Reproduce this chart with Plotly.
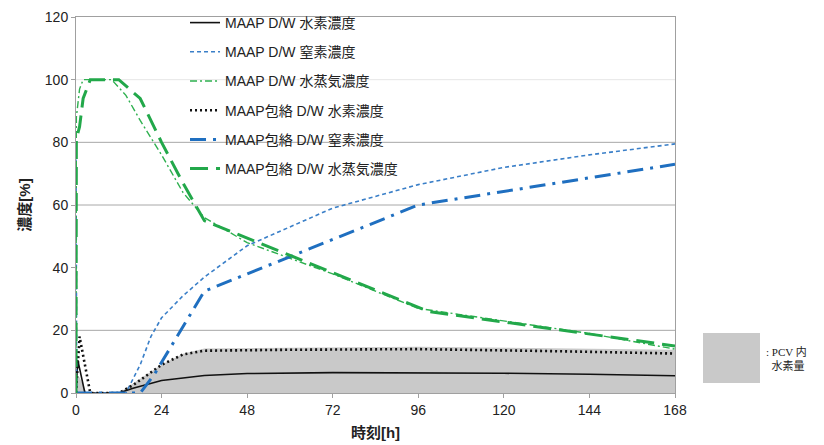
import plotly.graph_objects as go

# ---- data ----
t_h2 = [0, 0.5, 2.5, 12, 16, 24, 36, 48, 72, 96, 120, 144, 168]
h2_maap = [0, 10.5, 0, 0, 1.5, 4.0, 5.6, 6.2, 6.5, 6.5, 6.3, 6.0, 5.5]

t_n2 = [0, 0.2, 14, 18, 21, 24, 30, 36, 48, 72, 96, 120, 144, 168]
n2_maap = [79, 0, 0, 9, 18, 24, 31, 37, 47, 59, 66.5, 72, 76, 79.5]

t_st = [0, 0.1, 1, 2, 10, 14, 18, 24, 30, 36, 48, 72, 96, 120, 144, 168]
st_maap = [0, 88, 97, 100, 100, 95, 87, 76, 64, 56, 48, 38, 27, 23, 19, 14]

t_h2e = [0, 1, 4, 12, 16, 24, 30, 36, 60, 96, 132, 168]
h2_env = [0, 18, 0, 0, 2.5, 9, 12.3, 13.5, 13.8, 14, 13.4, 12.6]

t_n2e = [0, 18, 22, 36, 96, 168]
n2_env = [0, 0, 6, 32.5, 60, 73]

t_ste = [0, 0.1, 1, 2, 4, 12, 18, 24, 30, 36, 99, 168]
st_env = [0, 81, 85, 94, 100, 100, 94, 80, 67, 55, 26, 15]

t_pcv = [0, 1, 3, 12, 16, 24, 30, 36, 96, 168]
pcv_h2 = [5, 5, 0, 0, 3, 9, 12.5, 14.2, 14.8, 13.8]

x_ticks = [0, 24, 48, 72, 96, 120, 144, 168]
y_ticks = [0, 20, 40, 60, 80, 100, 120]
grid_lines = [20, 60, 80]
faint_grid = [100]

names = [
    "MAAP D/W 水素濃度",
    "MAAP D/W 窒素濃度",
    "MAAP D/W 水蒸気濃度",
    "MAAP包絡 D/W 水素濃度",
    "MAAP包絡 D/W 窒素濃度",
    "MAAP包絡 D/W 水蒸気濃度",
]

FONT = "Liberation Sans, Arial, Noto Sans CJK JP, sans-serif"

fig = go.Figure()

fig.add_trace(go.Scatter(x=t_pcv, y=pcv_h2, mode="lines", fill="tozeroy",
                         fillcolor="#c9c9c9", line=dict(width=0, color="#c9c9c9"),
                         showlegend=False, hoverinfo="skip"))

series = [
    (t_h2, h2_maap, dict(color="#111111", width=1.6, dash="solid")),
    (t_n2, n2_maap, dict(color="#3a7fc8", width=1.6, dash="4px,3px")),
    (t_st, st_maap, dict(color="#2eb04f", width=1.4, dash="7px,3px,2px,3px")),
    (t_h2e, h2_env, dict(color="#111111", width=2.6, dash="2px,3px")),
    (t_n2e, n2_env, dict(color="#1f6fc0", width=3, dash="16px,7px,3px,7px")),
    (t_ste, st_env, dict(color="#22a84a", width=3, dash="18px,8px")),
]
for i, ((x, y, ln), nm) in enumerate(zip(series, names)):
    fig.add_trace(go.Scatter(x=x, y=y, mode="lines", name=nm, line=ln,
                             legendgroup=f"g{i}"))

# plot area in page pixels: x 76..675, y 17..393 (page has 8px body margin)
PX0, PX1, PY0, PY1 = 76, 675, 17, 393
W, H = PX1 - PX0, PY1 - PY0

shapes = []
for g in grid_lines:
    shapes.append(dict(type="line", xref="paper", yref="y", x0=0, x1=1, y0=g, y1=g,
                       line=dict(color="#a8a8a8", width=1), layer="below"))
for g in faint_grid:
    shapes.append(dict(type="line", xref="paper", yref="y", x0=0, x1=1, y0=g, y1=g,
                       line=dict(color="#e6e6e6", width=1), layer="below"))
# PCV legend swatch
shapes.append(dict(type="rect", xref="paper", yref="paper",
                   x0=(703 - PX0) / W, x1=(760 - PX0) / W,
                   y0=(PY1 - 383) / H, y1=(PY1 - 333) / H,
                   fillcolor="#c9c9c9", line=dict(width=0)))

fig.update_layout(
    width=824, height=445,
    margin=dict(l=68, r=157, t=9, b=60, autoexpand=False),
    paper_bgcolor="white", plot_bgcolor="white",
    font=dict(family=FONT, size=14, color="#222222"),
    shapes=shapes,
    legend=dict(x=0.182, y=1 + 10 / H, xanchor="left", yanchor="top",
                bgcolor="rgba(0,0,0,0)", font=dict(size=14, family=FONT),
                tracegroupgap=8, itemwidth=30),
    xaxis=dict(range=[0, 168], tickvals=x_ticks, showgrid=False, zeroline=False,
               automargin=False, ticklabeloverflow="allow",
               showline=True, linecolor="#a0a0a0", mirror=True, ticks="outside",
               ticklen=4, tickcolor="#a0a0a0",
               title=dict(text="<b>時刻[h]</b>", font=dict(size=15), standoff=10)),
    yaxis=dict(range=[0, 120], tickvals=y_ticks, showgrid=False, zeroline=False,
               automargin=False, ticklabeloverflow="allow",
               showline=True, linecolor="#a0a0a0", mirror=True, ticks="outside",
               ticklen=4, tickcolor="#a0a0a0",
               title=dict(text="<b>濃度[%]</b>", font=dict(size=15), standoff=10)),
    annotations=[dict(xref="paper", yref="paper", x=(764 - PX0) / W, y=(PY1 - 358) / H,
                      text=": PCV 内<br>  水素量", showarrow=False, align="left",
                      xanchor="left", yanchor="middle",
                      font=dict(size=11, family="Liberation Serif, Noto Sans CJK JP"))],
)

fig.write_html("out.html")
